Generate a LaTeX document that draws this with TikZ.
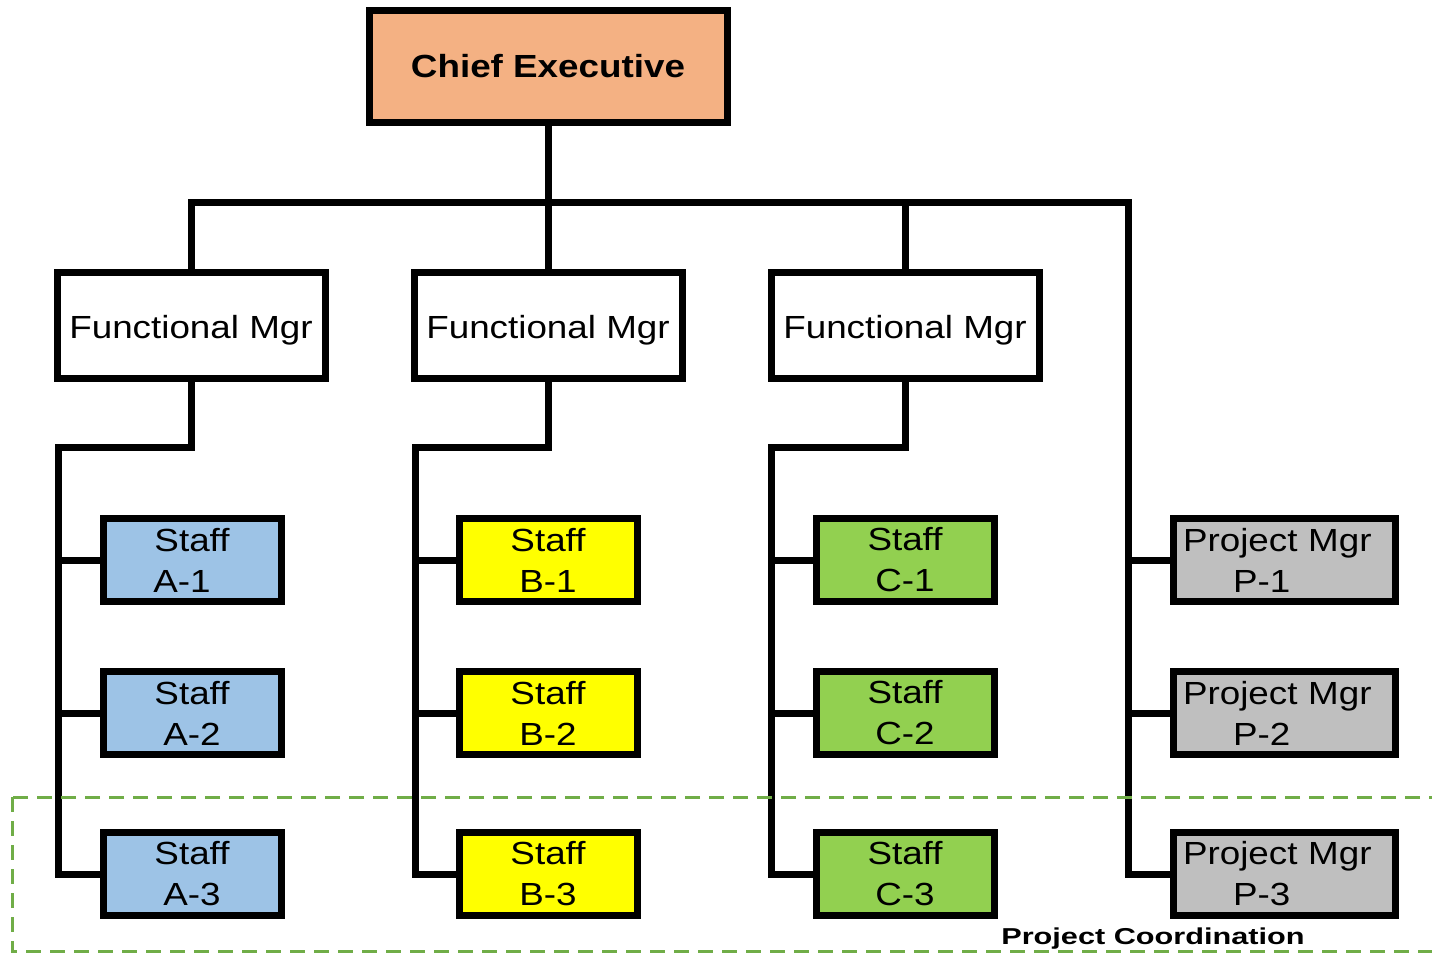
\documentclass[tikz,border=0pt]{standalone}
\usepackage{graphicx}
\usepackage{fontspec}
\setmainfont{Liberation Sans}[FakeStretch=1.15]
\definecolor{ceFill}{HTML}{F4B183}
\definecolor{aFill}{HTML}{9DC3E6}
\definecolor{bFill}{HTML}{FFFF00}
\definecolor{cFill}{HTML}{92D050}
\definecolor{pFill}{HTML}{BFBFBF}
\definecolor{dashGreen}{HTML}{70AD47}
\tikzset{
  box/.style={draw=black, line width=7pt, rectangle, inner sep=0pt, align=center,
    font=\fontsize{32}{41}\selectfont},
  cebox/.style={box, fill=ceFill, minimum width=358pt, minimum height=112pt, font=\bfseries\fontsize{32}{41}\selectfont},
  fmbox/.style={box, fill=white, minimum width=268pt, minimum height=106pt, text height=27pt, text depth=0pt},
  staffbox/.style={box, minimum width=178pt, minimum height=83pt},
  pmbox/.style={box, fill=pFill, minimum width=222pt, minimum height=83pt, text width=222pt, align=left},
  link/.style={draw=black, line width=7pt, line join=miter},
  coord/.style={draw=dashGreen, line width=3pt, dash pattern=on 15pt off 9pt}
}
\begin{document}
\begin{tikzpicture}[x=1pt,y=-1pt]
\useasboundingbox (0,0) rectangle (1432,953);
\node[cebox] (ce) at (548,66) {Chief Executive};
\node[fmbox] (fm1) at (191,325) {Functional Mgr};
\node[fmbox] (fm2) at (548,325) {Functional Mgr};
\node[fmbox] (fm3) at (905,325) {Functional Mgr};
\node[staffbox, fill=aFill] (a1) at (192,560) {Staff\\A-1\hspace*{20pt}};
\node[staffbox, fill=aFill] (a2) at (192,713) {Staff\\A-2};
\node[staffbox, fill=aFill] (a3) at (192,874) {Staff\\A-3};
\node[staffbox, fill=bFill] (b1) at (548,560) {Staff\\B-1};
\node[staffbox, fill=bFill] (b2) at (548,713) {Staff\\B-2};
\node[staffbox, fill=bFill] (b3) at (548,874) {Staff\\B-3};
\node[staffbox, fill=cFill] (c1) at (905,560) {Staff\\C-1};
\node[staffbox, fill=cFill] (c2) at (905,713) {Staff\\C-2};
\node[staffbox, fill=cFill] (c3) at (905,874) {Staff\\C-3};
\node[pmbox] (p1) at (1284,560) {\hspace*{10pt}Project Mgr\\\hspace*{60pt}P-1};
\node[pmbox] (p2) at (1284,713) {\hspace*{10pt}Project Mgr\\\hspace*{60pt}P-2};
\node[pmbox] (p3) at (1284,874) {\hspace*{10pt}Project Mgr\\\hspace*{60pt}P-3};
\coordinate (busR) at (1128,202);
\coordinate (ja) at (58,447);
\coordinate (jb) at (415,447);
\coordinate (jc) at (771,447);
% top bus
\draw[link] (ce.south) -- (ce.south |- busR);
\draw[link] (fm1.north) |- (busR) |- (p3.west);
\draw[link] (fm2.north) -- (fm2.north |- busR);
\draw[link] (fm3.north) -- (fm3.north |- busR);
\draw[link] (busR |- p1.west) -- (p1.west);
\draw[link] (busR |- p2.west) -- (p2.west);
% functional branches
\draw[link] (fm1.south) |- (ja) |- (a3.west);
\draw[link] (ja |- a1.west) -- (a1.west);
\draw[link] (ja |- a2.west) -- (a2.west);
\draw[link] (fm2.south) |- (jb) |- (b3.west);
\draw[link] (jb |- b1.west) -- (b1.west);
\draw[link] (jb |- b2.west) -- (b2.west);
\draw[link] (fm3.south) |- (jc) |- (c3.west);
\draw[link] (jc |- c1.west) -- (c1.west);
\draw[link] (jc |- c2.west) -- (c2.west);
% project coordination
\draw[coord] (12,797) rectangle (1450,951);
\node[inner sep=0pt] (pc) at (1153,939) {\scalebox{1.16}[1]{\bfseries\fontsize{23}{28}\selectfont Project Coordination}};
\end{tikzpicture}
\end{document}
